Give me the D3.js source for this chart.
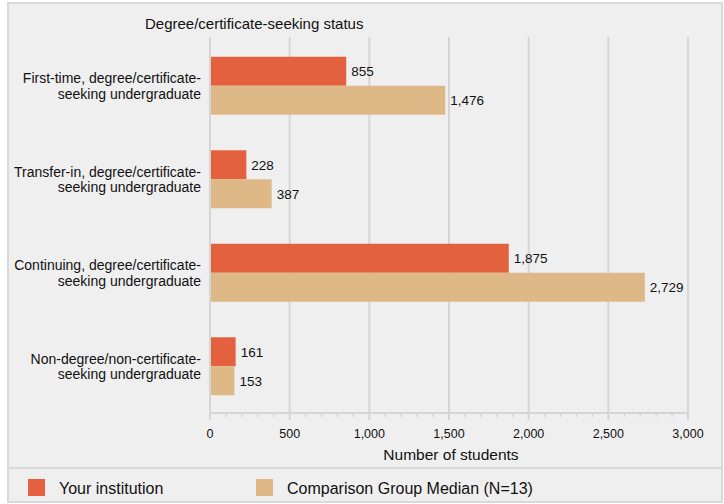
<!DOCTYPE html>
<html>
<head>
<meta charset="utf-8">
<script src="https://cdn.jsdelivr.net/npm/d3@7"></script>
<style>
  body { margin: 0; background: #fff; }
  text { font-family: "Liberation Sans", Arial, sans-serif; fill: #111; }
</style>
</head>
<body>
<div id="chart"></div>
<script>
const categories = [
  ["First-time, degree/certificate-", "seeking undergraduate"],
  ["Transfer-in, degree/certificate-", "seeking undergraduate"],
  ["Continuing, degree/certificate-", "seeking undergraduate"],
  ["Non-degree/non-certificate-", "seeking undergraduate"]
]
const yourInstitution = [855, 228, 1875, 161]
const comparisonMedian = [1476, 387, 2729, 153]
const seriesNames = ["Your institution", "Comparison Group Median (N=13)"]
const colors = ["#e4613f", "#deb887"]
const xTicks = [0, 500, 1000, 1500, 2000, 2500, 3000]

const width = 724, height = 504
const plot = { left: 210, right: 688, top: 37, bottom: 413 }

let svg = d3.select("#chart").append("svg")
  .attr("width", width)
  .attr("height", height)

// background + frame
svg.append("rect")
  .attr("x", 8).attr("y", 3)
  .attr("width", 714).attr("height", 499)
  .attr("fill", "#efefef")
  .attr("stroke", "#d9d9d9")
  .attr("stroke-width", 2)

svg.append("line")
  .attr("x1", 8).attr("x2", 722)
  .attr("y1", 468).attr("y2", 468)
  .attr("stroke", "#d9d9d9")
  .attr("stroke-width", 2)

let x = d3.scaleLinear().domain([0, 3000]).range([plot.left, plot.right])
let y = d3.scaleBand().domain(d3.range(categories.length))
  .range([39, plot.bottom]).paddingInner(0.38).paddingOuter(0.19)

// gridlines
svg.append("g").selectAll("line")
  .data(xTicks)
  .enter().append("line")
  .attr("x1", d => x(d)).attr("x2", d => x(d))
  .attr("y1", plot.top).attr("y2", plot.bottom + 7)
  .attr("stroke", "#d5d5d5")
  .attr("stroke-width", 2)

// axis baseline + minor ticks
svg.append("line")
  .attr("x1", x(0)).attr("x2", x(3000))
  .attr("y1", plot.bottom).attr("y2", plot.bottom)
  .attr("stroke", "#d5d5d5")
  .attr("stroke-width", 2)

svg.append("g").selectAll("line")
  .data(d3.range(0, 3001, 100).filter(d => d % 500 != 0))
  .enter().append("line")
  .attr("x1", d => x(d)).attr("x2", d => x(d))
  .attr("y1", plot.bottom).attr("y2", plot.bottom + 4)
  .attr("stroke", "#d5d5d5")
  .attr("stroke-width", 1.5)

svg.append("g").selectAll("text")
  .data(xTicks)
  .enter().append("text")
  .attr("x", d => x(d))
  .attr("y", 438)
  .attr("text-anchor", "middle")
  .style("font-size", "12.5px")
  .text(d => d3.format(",")(d))

svg.append("text")
  .attr("x", x(1500) + 2)
  .attr("y", 460)
  .attr("text-anchor", "middle")
  .style("font-size", "15.5px")
  .text("Number of students")

svg.append("text")
  .attr("x", 145)
  .attr("y", 29)
  .style("font-size", "15px")
  .text("Degree/certificate-seeking status")

// bars
let barH = y.bandwidth() / 2
let series = [yourInstitution, comparisonMedian]

series.forEach((vals, s) => {
  let g = svg.append("g")
  g.selectAll("rect")
    .data(vals)
    .enter().append("rect")
    .attr("x", x(0) + 1)
    .attr("y", (d, i) => y(i) + s * barH)
    .attr("width", d => x(d) - x(0) - 1)
    .attr("height", barH)
    .attr("fill", colors[s])

  g.selectAll("text")
    .data(vals)
    .enter().append("text")
    .attr("x", d => x(d) + 5)
    .attr("y", (d, i) => y(i) + s * barH + barH / 2 + 5)
    .style("font-size", "13.5px")
    .text(d => d3.format(",")(d))
})

// category labels
categories.forEach((lines, i) => {
  let t = svg.append("text")
    .attr("text-anchor", "end")
    .style("font-size", "14px")
  lines.forEach((ln, j) => {
    t.append("tspan")
      .attr("x", 201)
      .attr("y", y(i) + y.bandwidth() / 2 - 2.5 + j * 15.5)
      .text(ln)
  })
})

// legend
seriesNames.forEach((name, i) => {
  let lx = i == 0 ? 28 : 256
  svg.append("rect")
    .attr("x", lx).attr("y", 479)
    .attr("width", 17).attr("height", 17)
    .attr("fill", colors[i])
  svg.append("text")
    .attr("x", lx + 31)
    .attr("y", 494)
    .style("font-size", "16px")
    .text(name)
})
</script>
</body>
</html>
